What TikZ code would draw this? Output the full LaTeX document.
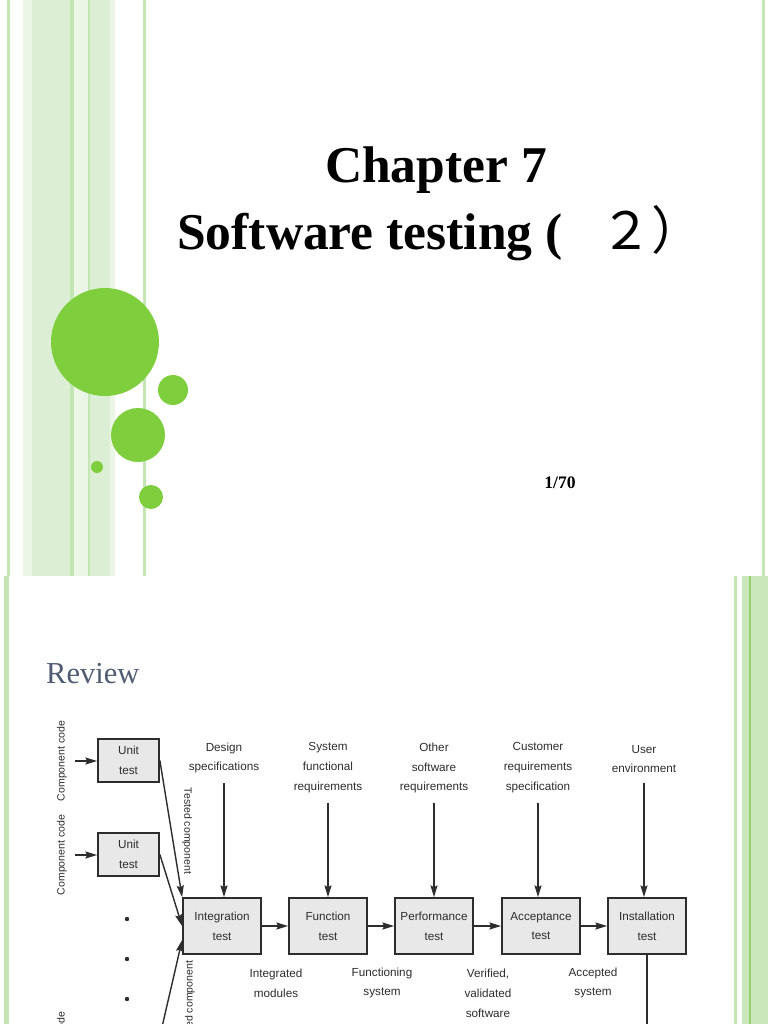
\documentclass[tikz,border=0pt]{standalone}
\usepackage{fontspec}
\setmainfont{Liberation Serif}
\newfontfamily\figfont{Liberation Sans}
\newfontfamily\cjkfont{Noto Sans CJK SC}
\usetikzlibrary{arrows.meta,calc}

\definecolor{leaf}{RGB}{127,206,61}
\definecolor{stripeA}{RGB}{197,229,180}
\definecolor{stripeB}{RGB}{220,239,212}
\definecolor{stripeC}{RGB}{236,246,231}
\definecolor{stripeD}{RGB}{150,210,110}
\definecolor{stripeE}{RGB}{202,231,188}
\definecolor{reviewblue}{RGB}{80,92,115}
\definecolor{ink}{RGB}{45,45,45}
\definecolor{boxgray}{RGB}{232,232,232}

\tikzset{
  testbox/.style={draw=ink,fill=boxgray,line width=1.5pt,minimum width=23.4mm,
    minimum height=16.8mm,inner sep=0pt,align=center,text=ink,
    font=\figfont\fontsize{10}{17}\selectfont},
  unitbox/.style={testbox,minimum width=18.3mm,minimum height=12.9mm},
  lbl/.style={align=center,inner sep=0pt,text=ink,
    font=\figfont\fontsize{10}{17}\selectfont},
  sidelbl/.style={inner sep=0pt,text=ink,font=\figfont\fontsize{9}{11}\selectfont},
  arr/.style={draw=ink,line width=1.2pt,-{Stealth[length=10pt,width=6pt,inset=1.5pt]}},
}

\begin{document}
\begin{tikzpicture}[x=0.3mm,y=-0.3mm]
\useasboundingbox (0,0) rectangle (768,1024);
\fill[white] (0,0) rectangle (768,1024);
% title slide
\fill[stripeA] (7,0) rectangle (10,576);
\fill[stripeC] (23,0) rectangle (32,576);
\fill[stripeB] (32,0) rectangle (70,576);
\fill[stripeA] (70,0) rectangle (74,576);
\fill[stripeC] (74,0) rectangle (88,576);
\fill[stripeA] (88,0) rectangle (90,576);
\fill[stripeB] (90,0) rectangle (110,576);
\fill[stripeC] (110,0) rectangle (115,576);
\fill[stripeA] (143,0) rectangle (146,576);
\fill[stripeA] (762,0) rectangle (765,576);
\fill[leaf] (105,342) circle (54);
\fill[leaf] (173,390) circle (15);
\fill[leaf] (138,435) circle (27);
\fill[leaf] (97,467) circle (6);
\fill[leaf] (151,497) circle (12);
\node[font=\bfseries\fontsize{44}{48}\selectfont,anchor=base] (chap) at (436,182) {Chapter 7};
\node[font=\bfseries\fontsize{44}{48}\selectfont,anchor=base west,inner sep=0pt] (subj)
  at (177,249) {Software testing (\hspace{32pt}{\cjkfont\mdseries ２）}};
\node[font=\bfseries\fontsize{15}{18}\selectfont,anchor=base] (pg) at (560,488) {1/70};
% review slide
\fill[stripeA] (4,576) rectangle (9,1024);
\fill[stripeA] (734,576) rectangle (737,1024);
\fill[stripeE] (742,576) rectangle (768,1024);
\fill[stripeD] (749,576) rectangle (751,1024);
\node[text=reviewblue,font=\fontsize{26}{30}\selectfont,anchor=base west,inner sep=0pt]
  (rev) at (46,683) {Review};

\node[unitbox] (u1) at (128.5,760.5) {Unit\\test};
\node[unitbox] (u2) at (128.5,854.5) {Unit\\test};
\node[testbox] (int) at (222,926) {Integration\\test};
\node[testbox] (fun) at (328,926) {Function\\test};
\node[testbox] (perf) at (434,926) {Performance\\test};
\node[testbox] (acc) at (541,926) {Acceptance\\test};
\node[testbox] (ins) at (647,926) {Installation\\test};

\node[sidelbl,rotate=90] (cc1) at (62,761) {Component code};
\node[sidelbl,rotate=90] (cc2) at (62,855) {Component code};
\node[sidelbl,rotate=90] (cc3) at (62,1052) {Component code};
\node[sidelbl,rotate=-90] (tc1) at (187,831) {Tested component};
\node[sidelbl,rotate=90] (tc2) at (190,1004) {Tested component};

\node[lbl] (des) at (224,758) {Design\\specifications};
\node[lbl] (sfr) at (328,768) {System\\functional\\requirements};
\node[lbl] (osr) at (434,768) {Other\\software\\requirements};
\node[lbl] (crs) at (538,768) {Customer\\requirements\\specification};
\node[lbl] (env) at (644,759) {User\\environment};

\node[lbl] (imod) at (276,983) {Integrated\\modules};
\node[lbl] (fsys) at (382,983) {Functioning\\system};
\node[lbl] (vsw) at (488,993) {Verified,\\validated\\software};
\node[lbl] (asys) at (593,983) {Accepted\\system};

\draw[arr,shorten <=7pt] (cc1.south) -- (cc1.south -| u1.west);
\draw[arr,shorten <=7pt] (cc2.south) -- (cc2.south -| u2.west);
\draw[arr] (u1.east) -- (int.north west);
\draw[arr] (u2.east) -- (int.west);
\coordinate (u3) at (159,1040);
\draw[arr] (u3) -- ($(int.west)+(0,14)$);

\draw[arr,shorten <=8pt] (des.south) -- (des.south |- int.north);
\draw[arr,shorten <=8pt] (sfr.south) -- (sfr.south |- fun.north);
\draw[arr,shorten <=8pt] (osr.south) -- (osr.south |- perf.north);
\draw[arr,shorten <=8pt] (crs.south) -- (crs.south |- acc.north);
\draw[arr,shorten <=8pt] (env.south) -- (env.south |- ins.north);

\draw[arr] (int) -- (fun);
\draw[arr] (fun) -- (perf);
\draw[arr] (perf) -- (acc);
\draw[arr] (acc) -- (ins);
\coordinate (insend) at (647,1030);
\draw[ink,line width=1.2pt] (ins.south) -- (insend);

\fill[ink] (127,919) circle (2.2);
\fill[ink] (127,959) circle (2.2);
\fill[ink] (127,999) circle (2.2);
\end{tikzpicture}
\end{document}
